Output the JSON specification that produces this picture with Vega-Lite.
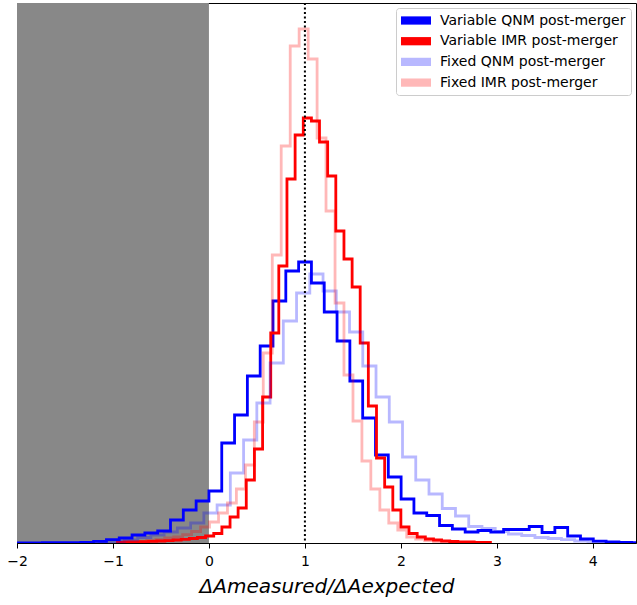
{
  "$schema": "https://vega.github.io/schema/vega-lite/v6.json",
  "width": 619,
  "height": 540,
  "autosize": {"type": "none"},
  "padding": {"left": 17, "top": 3, "right": 1, "bottom": 62},
  "background": "white",
  "config": {
    "font": "DejaVu Sans",
    "view": {"stroke": "#000000", "strokeWidth": 1},
    "axis": {"grid": false}
  },
  "datasets": {
    "hist": [
      {"series": "Variable QNM post-merger", "x": -2.0025, "y": 0.2},
      {"series": "Variable QNM post-merger", "x": -1.869, "y": 0.2},
      {"series": "Variable QNM post-merger", "x": -1.7355, "y": 0.3},
      {"series": "Variable QNM post-merger", "x": -1.602, "y": 0.3},
      {"series": "Variable QNM post-merger", "x": -1.4685, "y": 0.4},
      {"series": "Variable QNM post-merger", "x": -1.335, "y": 0.6},
      {"series": "Variable QNM post-merger", "x": -1.2015, "y": 1.6},
      {"series": "Variable QNM post-merger", "x": -1.068, "y": 3.3},
      {"series": "Variable QNM post-merger", "x": -0.9345, "y": 5},
      {"series": "Variable QNM post-merger", "x": -0.801, "y": 8},
      {"series": "Variable QNM post-merger", "x": -0.6675, "y": 10},
      {"series": "Variable QNM post-merger", "x": -0.534, "y": 12},
      {"series": "Variable QNM post-merger", "x": -0.4005, "y": 23},
      {"series": "Variable QNM post-merger", "x": -0.267, "y": 33},
      {"series": "Variable QNM post-merger", "x": -0.1335, "y": 42},
      {"series": "Variable QNM post-merger", "x": 0, "y": 52},
      {"series": "Variable QNM post-merger", "x": 0.1335, "y": 100},
      {"series": "Variable QNM post-merger", "x": 0.267, "y": 128},
      {"series": "Variable QNM post-merger", "x": 0.4005, "y": 167},
      {"series": "Variable QNM post-merger", "x": 0.534, "y": 197},
      {"series": "Variable QNM post-merger", "x": 0.6675, "y": 242},
      {"series": "Variable QNM post-merger", "x": 0.801, "y": 272},
      {"series": "Variable QNM post-merger", "x": 0.9345, "y": 281},
      {"series": "Variable QNM post-merger", "x": 1.068, "y": 260},
      {"series": "Variable QNM post-merger", "x": 1.2015, "y": 231},
      {"series": "Variable QNM post-merger", "x": 1.335, "y": 202},
      {"series": "Variable QNM post-merger", "x": 1.4685, "y": 162},
      {"series": "Variable QNM post-merger", "x": 1.602, "y": 125},
      {"series": "Variable QNM post-merger", "x": 1.7355, "y": 88},
      {"series": "Variable QNM post-merger", "x": 1.869, "y": 66},
      {"series": "Variable QNM post-merger", "x": 2.0025, "y": 44},
      {"series": "Variable QNM post-merger", "x": 2.136, "y": 30},
      {"series": "Variable QNM post-merger", "x": 2.2695, "y": 27.5},
      {"series": "Variable QNM post-merger", "x": 2.403, "y": 17.5},
      {"series": "Variable QNM post-merger", "x": 2.5365, "y": 14},
      {"series": "Variable QNM post-merger", "x": 2.67, "y": 11},
      {"series": "Variable QNM post-merger", "x": 2.8035, "y": 12.5},
      {"series": "Variable QNM post-merger", "x": 2.937, "y": 11},
      {"series": "Variable QNM post-merger", "x": 3.0705, "y": 13.5},
      {"series": "Variable QNM post-merger", "x": 3.204, "y": 13.5},
      {"series": "Variable QNM post-merger", "x": 3.3375, "y": 16.5},
      {"series": "Variable QNM post-merger", "x": 3.471, "y": 10.5},
      {"series": "Variable QNM post-merger", "x": 3.6045, "y": 15.5},
      {"series": "Variable QNM post-merger", "x": 3.738, "y": 7},
      {"series": "Variable QNM post-merger", "x": 3.8715, "y": 4},
      {"series": "Variable QNM post-merger", "x": 4.005, "y": 1.8},
      {"series": "Variable QNM post-merger", "x": 4.1385, "y": 1},
      {"series": "Variable QNM post-merger", "x": 4.272, "y": 0.5},
      {"series": "Variable QNM post-merger", "x": 4.4055, "y": 0.3},
      {"series": "Variable QNM post-merger", "x": 4.539, "y": 0},

      {"series": "Variable IMR post-merger", "x": -0.968, "y": 0.5},
      {"series": "Variable IMR post-merger", "x": -0.883, "y": 1},
      {"series": "Variable IMR post-merger", "x": -0.798, "y": 1},
      {"series": "Variable IMR post-merger", "x": -0.713, "y": 1.3},
      {"series": "Variable IMR post-merger", "x": -0.628, "y": 1.6},
      {"series": "Variable IMR post-merger", "x": -0.544, "y": 2},
      {"series": "Variable IMR post-merger", "x": -0.459, "y": 2.4},
      {"series": "Variable IMR post-merger", "x": -0.374, "y": 3},
      {"series": "Variable IMR post-merger", "x": -0.289, "y": 3.6},
      {"series": "Variable IMR post-merger", "x": -0.204, "y": 4.5},
      {"series": "Variable IMR post-merger", "x": -0.12, "y": 5.5},
      {"series": "Variable IMR post-merger", "x": -0.035, "y": 7},
      {"series": "Variable IMR post-merger", "x": 0.05, "y": 9.5},
      {"series": "Variable IMR post-merger", "x": 0.135, "y": 16},
      {"series": "Variable IMR post-merger", "x": 0.22, "y": 26},
      {"series": "Variable IMR post-merger", "x": 0.304, "y": 35},
      {"series": "Variable IMR post-merger", "x": 0.389, "y": 63},
      {"series": "Variable IMR post-merger", "x": 0.474, "y": 94},
      {"series": "Variable IMR post-merger", "x": 0.559, "y": 146},
      {"series": "Variable IMR post-merger", "x": 0.644, "y": 210},
      {"series": "Variable IMR post-merger", "x": 0.728, "y": 277},
      {"series": "Variable IMR post-merger", "x": 0.813, "y": 364},
      {"series": "Variable IMR post-merger", "x": 0.898, "y": 408},
      {"series": "Variable IMR post-merger", "x": 0.983, "y": 425},
      {"series": "Variable IMR post-merger", "x": 1.068, "y": 422},
      {"series": "Variable IMR post-merger", "x": 1.152, "y": 401},
      {"series": "Variable IMR post-merger", "x": 1.237, "y": 367},
      {"series": "Variable IMR post-merger", "x": 1.322, "y": 312},
      {"series": "Variable IMR post-merger", "x": 1.407, "y": 284},
      {"series": "Variable IMR post-merger", "x": 1.492, "y": 256},
      {"series": "Variable IMR post-merger", "x": 1.576, "y": 200},
      {"series": "Variable IMR post-merger", "x": 1.661, "y": 137},
      {"series": "Variable IMR post-merger", "x": 1.746, "y": 85},
      {"series": "Variable IMR post-merger", "x": 1.831, "y": 56},
      {"series": "Variable IMR post-merger", "x": 1.916, "y": 33},
      {"series": "Variable IMR post-merger", "x": 2.0, "y": 16},
      {"series": "Variable IMR post-merger", "x": 2.085, "y": 9.5},
      {"series": "Variable IMR post-merger", "x": 2.17, "y": 6},
      {"series": "Variable IMR post-merger", "x": 2.255, "y": 4},
      {"series": "Variable IMR post-merger", "x": 2.34, "y": 3},
      {"series": "Variable IMR post-merger", "x": 2.424, "y": 2},
      {"series": "Variable IMR post-merger", "x": 2.509, "y": 1.5},
      {"series": "Variable IMR post-merger", "x": 2.594, "y": 1.2},
      {"series": "Variable IMR post-merger", "x": 2.679, "y": 1},
      {"series": "Variable IMR post-merger", "x": 2.764, "y": 0.7},
      {"series": "Variable IMR post-merger", "x": 2.848, "y": 0.5},
      {"series": "Variable IMR post-merger", "x": 2.933, "y": 0},

      {"series": "Fixed QNM post-merger", "x": -1.157, "y": 0.5},
      {"series": "Fixed QNM post-merger", "x": -1.019, "y": 1.5},
      {"series": "Fixed QNM post-merger", "x": -0.881, "y": 3},
      {"series": "Fixed QNM post-merger", "x": -0.743, "y": 5.5},
      {"series": "Fixed QNM post-merger", "x": -0.605, "y": 8},
      {"series": "Fixed QNM post-merger", "x": -0.467, "y": 11},
      {"series": "Fixed QNM post-merger", "x": -0.329, "y": 15},
      {"series": "Fixed QNM post-merger", "x": -0.191, "y": 20},
      {"series": "Fixed QNM post-merger", "x": -0.053, "y": 30},
      {"series": "Fixed QNM post-merger", "x": 0.085, "y": 38},
      {"series": "Fixed QNM post-merger", "x": 0.223, "y": 70},
      {"series": "Fixed QNM post-merger", "x": 0.361, "y": 103},
      {"series": "Fixed QNM post-merger", "x": 0.499, "y": 140},
      {"series": "Fixed QNM post-merger", "x": 0.637, "y": 180},
      {"series": "Fixed QNM post-merger", "x": 0.775, "y": 222},
      {"series": "Fixed QNM post-merger", "x": 0.913, "y": 250},
      {"series": "Fixed QNM post-merger", "x": 1.051, "y": 269},
      {"series": "Fixed QNM post-merger", "x": 1.189, "y": 252},
      {"series": "Fixed QNM post-merger", "x": 1.327, "y": 231},
      {"series": "Fixed QNM post-merger", "x": 1.465, "y": 211},
      {"series": "Fixed QNM post-merger", "x": 1.603, "y": 177},
      {"series": "Fixed QNM post-merger", "x": 1.741, "y": 146},
      {"series": "Fixed QNM post-merger", "x": 1.879, "y": 121},
      {"series": "Fixed QNM post-merger", "x": 2.017, "y": 86},
      {"series": "Fixed QNM post-merger", "x": 2.155, "y": 63},
      {"series": "Fixed QNM post-merger", "x": 2.293, "y": 49},
      {"series": "Fixed QNM post-merger", "x": 2.431, "y": 34.5},
      {"series": "Fixed QNM post-merger", "x": 2.569, "y": 27},
      {"series": "Fixed QNM post-merger", "x": 2.707, "y": 16.5},
      {"series": "Fixed QNM post-merger", "x": 2.845, "y": 14.5},
      {"series": "Fixed QNM post-merger", "x": 2.983, "y": 11.5},
      {"series": "Fixed QNM post-merger", "x": 3.121, "y": 9},
      {"series": "Fixed QNM post-merger", "x": 3.259, "y": 7.5},
      {"series": "Fixed QNM post-merger", "x": 3.397, "y": 5.5},
      {"series": "Fixed QNM post-merger", "x": 3.535, "y": 4.5},
      {"series": "Fixed QNM post-merger", "x": 3.673, "y": 3.3},
      {"series": "Fixed QNM post-merger", "x": 3.811, "y": 2},
      {"series": "Fixed QNM post-merger", "x": 3.949, "y": 1},
      {"series": "Fixed QNM post-merger", "x": 4.087, "y": 0.5},
      {"series": "Fixed QNM post-merger", "x": 4.225, "y": 0},

      {"series": "Fixed IMR post-merger", "x": -0.928, "y": 0.5},
      {"series": "Fixed IMR post-merger", "x": -0.834, "y": 1},
      {"series": "Fixed IMR post-merger", "x": -0.741, "y": 1.6},
      {"series": "Fixed IMR post-merger", "x": -0.648, "y": 2.5},
      {"series": "Fixed IMR post-merger", "x": -0.554, "y": 3.3},
      {"series": "Fixed IMR post-merger", "x": -0.461, "y": 5},
      {"series": "Fixed IMR post-merger", "x": -0.367, "y": 6},
      {"series": "Fixed IMR post-merger", "x": -0.274, "y": 8.3},
      {"series": "Fixed IMR post-merger", "x": -0.181, "y": 11.5},
      {"series": "Fixed IMR post-merger", "x": -0.087, "y": 16},
      {"series": "Fixed IMR post-merger", "x": 0.006, "y": 21},
      {"series": "Fixed IMR post-merger", "x": 0.1, "y": 30},
      {"series": "Fixed IMR post-merger", "x": 0.193, "y": 40},
      {"series": "Fixed IMR post-merger", "x": 0.286, "y": 54},
      {"series": "Fixed IMR post-merger", "x": 0.38, "y": 78},
      {"series": "Fixed IMR post-merger", "x": 0.473, "y": 121},
      {"series": "Fixed IMR post-merger", "x": 0.566, "y": 190},
      {"series": "Fixed IMR post-merger", "x": 0.66, "y": 288},
      {"series": "Fixed IMR post-merger", "x": 0.753, "y": 397},
      {"series": "Fixed IMR post-merger", "x": 0.847, "y": 497},
      {"series": "Fixed IMR post-merger", "x": 0.94, "y": 514},
      {"series": "Fixed IMR post-merger", "x": 1.034, "y": 484},
      {"series": "Fixed IMR post-merger", "x": 1.127, "y": 405},
      {"series": "Fixed IMR post-merger", "x": 1.22, "y": 332},
      {"series": "Fixed IMR post-merger", "x": 1.314, "y": 240},
      {"series": "Fixed IMR post-merger", "x": 1.407, "y": 168},
      {"series": "Fixed IMR post-merger", "x": 1.501, "y": 122},
      {"series": "Fixed IMR post-merger", "x": 1.594, "y": 82},
      {"series": "Fixed IMR post-merger", "x": 1.687, "y": 54},
      {"series": "Fixed IMR post-merger", "x": 1.781, "y": 33},
      {"series": "Fixed IMR post-merger", "x": 1.874, "y": 20},
      {"series": "Fixed IMR post-merger", "x": 1.968, "y": 13},
      {"series": "Fixed IMR post-merger", "x": 2.061, "y": 6},
      {"series": "Fixed IMR post-merger", "x": 2.154, "y": 4},
      {"series": "Fixed IMR post-merger", "x": 2.248, "y": 2.5},
      {"series": "Fixed IMR post-merger", "x": 2.341, "y": 1.5},
      {"series": "Fixed IMR post-merger", "x": 2.434, "y": 1},
      {"series": "Fixed IMR post-merger", "x": 2.528, "y": 0.7},
      {"series": "Fixed IMR post-merger", "x": 2.621, "y": 0.5},
      {"series": "Fixed IMR post-merger", "x": 2.715, "y": 0}
    ],
    "band": [{"start": -2, "end": 0}],
    "ref": [{"x": 1}]
  },
  "layer": [
    {
      "data": {"name": "band"},
      "mark": {"type": "rect", "color": "#888888", "clip": true},
      "encoding": {
        "x": {
          "field": "start", "type": "quantitative",
          "scale": {"domain": [-2, 4.45], "nice": false, "zero": false},
          "axis": {
            "values": [-2, -1, 0, 1, 2, 3, 4],
            "format": "d",
            "domainColor": "#000000",
            "tickColor": "#000000",
            "tickSize": 5,
            "labelFontSize": 14,
            "labelColor": "#000000",
            "labelPadding": 6,
            "labelFlush": false,
            "title": "ΔAmeasured/ΔAexpected",
            "titleFontSize": 20,
            "titleFontStyle": "italic",
            "titleFontWeight": "normal",
            "titleColor": "#000000",
            "titlePadding": 8
          }
        },
        "x2": {"field": "end"},
        "y": {
          "datum": 0, "type": "quantitative",
          "scale": {"domain": [0, 540], "nice": false, "zero": true},
          "axis": null
        },
        "y2": {"datum": 540}
      }
    },
    {
      "data": {"name": "hist"},
      "mark": {"type": "line", "interpolate": "step-after", "strokeWidth": 2.8, "strokeJoin": "miter", "strokeCap": "butt", "clip": true},
      "encoding": {
        "x": {"field": "x", "type": "quantitative"},
        "y": {"field": "y", "type": "quantitative"},
        "color": {
          "field": "series", "type": "nominal",
          "scale": {
            "domain": ["Variable QNM post-merger", "Variable IMR post-merger", "Fixed QNM post-merger", "Fixed IMR post-merger"],
            "range": ["#0000ff", "#ff0000", "rgba(0,0,255,0.28)", "rgba(255,0,0,0.28)"]
          },
          "legend": {
            "title": null,
            "orient": "top-right",
            "offset": 5,
            "symbolType": "M-1,-0.55H3V0.55H-1Z",
            "symbolSize": 225,
            "symbolStrokeWidth": 0,
            "symbolOpacity": 1,
            "labelFontSize": 14,
            "labelColor": "#000000",
            "labelFont": "DejaVu Sans",
            "labelLimit": 300,
            "labelOffset": 24,
            "rowPadding": 5.7,
            "padding": 5,
            "strokeColor": "#cccccc",
            "cornerRadius": 3,
            "fillColor": "#ffffff",
            "encode": {
              "symbols": {
                "update": {
                  "fill": {"scale": "color", "field": "value"},
                  "stroke": {"value": "transparent"}
                }
              }
            }
          }
        }
      }
    },
    {
      "data": {"name": "ref"},
      "mark": {"type": "rule", "color": "#000000", "strokeWidth": 2, "strokeDash": [2, 2.5]},
      "encoding": {
        "x": {"field": "x", "type": "quantitative"}
      }
    }
  ]
}
